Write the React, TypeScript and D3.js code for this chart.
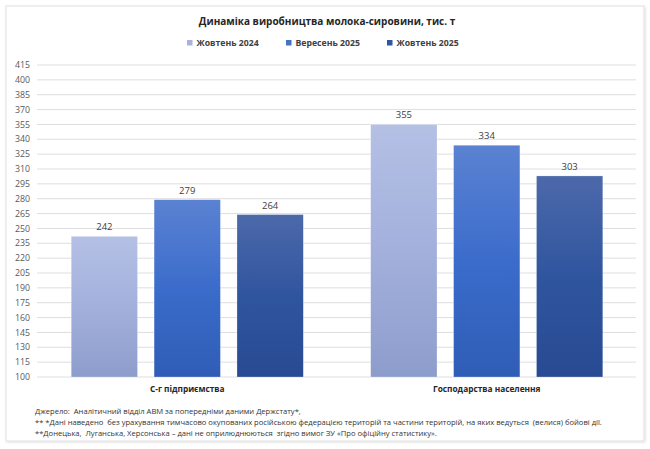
import React from 'react'
import * as d3 from 'd3'

const categories = ['С-г підприємства', 'Господарства населення']
const seriesNames = ['Жовтень 2024', 'Вересень 2025', 'Жовтень 2025']
const values = [
  [242, 355],
  [279, 334],
  [264, 303],
]
const yTicks = d3.range(100, 416, 15)
const footnotes = [
  'Джерело:  Аналітичний відділ АВМ за попередніми даними Держстату*,',
  '** *Дані наведено  без урахування тимчасово окупованих російською федерацією територій та частини територій, на яких ведуться  (велися) бойові дії.',
  '**Донецька,  Луганська, Херсонська – дані не оприлюднюються  згідно вимог ЗУ «Про офіційну статистику».',
]

const gradients = [
  ['#b4c0e4', '#a3b0dc', '#8d9dcb'],
  ['#5b82d2', '#3b6ccb', '#2f5db6'],
  ['#4c69aa', '#30559f', '#284a93'],
]
const legendColors = ['#a7b3dc', '#4472c4', '#2f55a4']

const font = '"Open Sans", "Noto Sans", sans-serif'

export default function App() {
  const width = 650
  const height = 449
  const x0 = d3.scaleBand().domain(categories).range([37.5, 636.5]).paddingInner(0.225).paddingOuter(0.1125)
  const x1 = d3.scaleBand<number>().domain([0, 1, 2]).range([0, x0.bandwidth()]).paddingInner(0.2)
  const y = d3.scaleLinear().domain([100, 415]).range([377, 65])

  const legendX = [187, 286, 387]

  return (
    <svg width={width} height={height} style={{ position: 'fixed', left: 0, top: 0, background: '#fff' }} fontFamily={font}>
      <defs>
        {gradients.map((g, i) => (
          <linearGradient key={i} id={`g${i}`} x1="0" y1="0" x2="0" y2="1">
            <stop offset="0%" stopColor={g[0]} />
            <stop offset="50%" stopColor={g[1]} />
            <stop offset="100%" stopColor={g[2]} />
          </linearGradient>
        ))}
        <filter id="shadow" x="-5%" y="-5%" width="110%" height="110%">
          <feDropShadow dx="1" dy="1" stdDeviation="1.2" floodColor="#000" floodOpacity="0.12" />
        </filter>
      </defs>
      <rect x={6} y={6} width={638} height={435} fill="#fff" stroke="#e0e0e0" strokeWidth={1} filter="url(#shadow)" />

      <text x={327} y={25} textAnchor="middle" fontSize={10} fontWeight="bold" fill="#262626">
        Динаміка виробництва молока-сировини, тис. т
      </text>

      {seriesNames.map((s, i) => (
        <g key={s}>
          <rect x={legendX[i]} y={40} width={5.5} height={5.5} fill={legendColors[i]} />
          <text x={legendX[i] + 9.5} y={46} fontSize={8.7} fontWeight="bold" fill="#404040">
            {s}
          </text>
        </g>
      ))}

      {yTicks.map(t => (
        <g key={t}>
          <line x1={37} x2={636} y1={y(t)} y2={y(t)} stroke="#dedede" strokeWidth={1} />
          <text x={30} y={y(t) + 3.2} textAnchor="end" fontSize={8.8} fill="#595959">
            {t}
          </text>
        </g>
      ))}

      {categories.map((c, ci) => (
        <g key={c} transform={`translate(${x0(c)},0)`}>
          {values.map((vals, si) => {
            const v = vals[ci]
            const bx = x1(si) as number
            return (
              <g key={si}>
                <rect x={bx} y={y(v)} width={x1.bandwidth()} height={y(100) - y(v)} fill={`url(#g${si})`} stroke="rgba(255,255,255,0.5)" strokeWidth={0.5} />
                <text x={bx + x1.bandwidth() / 2} y={y(v) - 6} textAnchor="middle" fontSize={9.5} fill="#404040">
                  {v}
                </text>
              </g>
            )
          })}
          <text x={x0.bandwidth() / 2} y={392} textAnchor="middle" fontSize={8.3} fontWeight="bold" fill="#262626">
            {c}
          </text>
        </g>
      ))}

      {footnotes.map((f, i) => (
        <text key={i} x={35} y={414 + i * 11} fontSize={7.6} fill="#333" style={{ whiteSpace: 'pre' }}>
          {f}
        </text>
      ))}
    </svg>
  )
}
